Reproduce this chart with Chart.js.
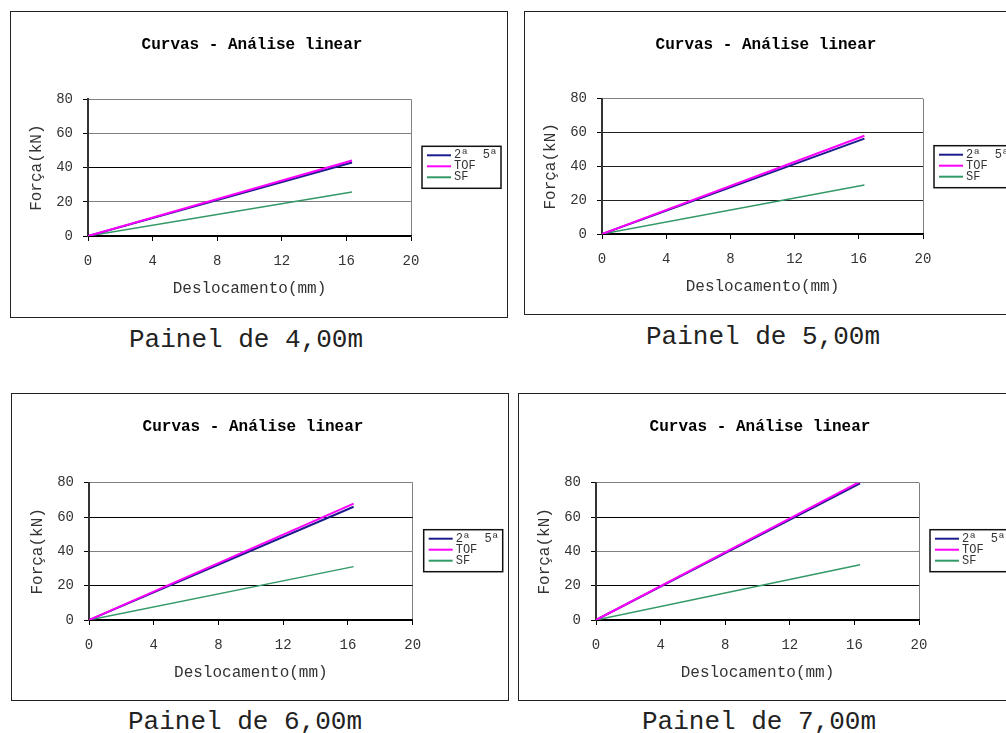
<!DOCTYPE html>
<html>
<head>
<meta charset="utf-8">
<script src="https://cdn.jsdelivr.net/npm/chart.js@4/dist/chart.umd.min.js"></script>
<style>
  html, body { margin: 0; padding: 0; background: #fff; overflow: hidden; width: 1006px; height: 733px; }
  .painel { position: absolute; border: 1px solid #222; background: #fff; }
  .painel canvas { display: block; }
  .legenda { position: absolute; font-family: "Courier New", "Nimbus Mono PS", "Nimbus Mono L", FreeMono, Courier, "Liberation Mono", monospace; font-size: 26px; line-height: 26px; color: #222; white-space: pre; }
</style>
</head>
<body>
<div class="painel" style="left:10px;top:11px;width:496px;height:305px"><canvas id="c1" width="496" height="305"></canvas></div>
<div class="painel" style="left:524px;top:11px;width:496px;height:302px"><canvas id="c2" width="496" height="302"></canvas></div>
<div class="painel" style="left:11px;top:393px;width:496px;height:306px"><canvas id="c3" width="496" height="306"></canvas></div>
<div class="painel" style="left:518px;top:393px;width:496px;height:306px"><canvas id="c4" width="496" height="306"></canvas></div>
<div class="legenda" style="left:129px;top:327px">Painel de 4,00m</div>
<div class="legenda" style="left:646px;top:324px">Painel de 5,00m</div>
<div class="legenda" style="left:128px;top:709px">Painel de 6,00m</div>
<div class="legenda" style="left:642px;top:709px">Painel de 7,00m</div>
<script>
// dados
const deslocamento = [0, 16.35]
const xTicks = [0, 4, 8, 12, 16, 20]
const yTicks = [0, 20, 40, 60, 80]
const nomesSeries = ['2ª  5ª', 'TOF', 'SF']

const p4_25 = [0, 43.0]
const p4_tof = [0, 44.2]
const p4_sf = [0, 25.8]

const p5_25 = [0, 56.4]
const p5_tof = [0, 58.1]
const p5_sf = [0, 29.0]

const p6_25 = [0, 66.0]
const p6_tof = [0, 67.8]
const p6_sf = [0, 31.1]

const p7_25 = [0, 79.6]
const p7_tof = [0, 80.6]
const p7_sf = [0, 32.2]

const cores = ['#1c1c8e', '#ff00ff', '#339966']
const mono = '"Courier New", "Nimbus Mono PS", "Nimbus Mono L", FreeMono, Courier, "Liberation Mono", monospace'

// legenda com moldura, desenhada a partir dos datasets
const legendaBox = {
  id: 'legendaBox',
  afterLayout(chart) {
    // titulo centrado no quadro inteiro, nao so na area do grafico
    if (chart.titleBlock) {
      chart.titleBlock.left = 0
      chart.titleBlock.right = 482
    }
  },
  afterDraw(chart) {
    const ctx = chart.ctx
    const a = chart.chartArea
    const bx = a.right + 11, by = a.top + 47
    ctx.save()
    ctx.strokeStyle = '#111'
    ctx.lineWidth = 1.5
    ctx.strokeRect(bx, by, 79, 42)
    ctx.font = '12px ' + mono
    ctx.textBaseline = 'middle'
    ctx.fillStyle = '#333'
    chart.data.datasets.forEach((ds, i) => {
      const y = by + 9 + i * 11
      ctx.strokeStyle = ds.borderColor
      ctx.lineWidth = 2
      ctx.beginPath()
      ctx.moveTo(bx + 5, y)
      ctx.lineTo(bx + 29, y)
      ctx.stroke()
      ctx.fillText(ds.label, bx + 32, y)
    })
    ctx.restore()
  }
}

function grafico(id, s25, stof, ssf, lay, gridCores) {
  const pts = arr => deslocamento.map((x, i) => ({x: x, y: arr[i]}))
  const el = document.getElementById(id)
  return new Chart(el, {
    type: 'line',
    data: {
      datasets: [
        {label: nomesSeries[0], data: pts(s25), borderColor: cores[0], borderWidth: 2, pointRadius: 0, order: 1},
        {label: nomesSeries[1], data: pts(stof), borderColor: cores[1], borderWidth: 2, pointRadius: 0, order: 0},
        {label: nomesSeries[2], data: pts(ssf), borderColor: cores[2], borderWidth: 1.5, pointRadius: 0, order: 2}
      ]
    },
    options: {
      responsive: false,
      animation: false,
      layout: {padding: {left: 0, top: 0, right: el.width - lay.right, bottom: 0}},
      plugins: {
        legend: {display: false},
        tooltip: {enabled: false},
        title: {
          display: true,
          text: 'Curvas - Análise linear',
          color: '#000',
          font: {family: mono, size: 16, weight: 'bold', lineHeight: 1.2},
          padding: {top: 23, bottom: lay.top - 23 - 19.2}
        }
      },
      scales: {
        x: {
          type: 'linear',
          min: 0, max: 20,
          afterBuildTicks: s => { s.ticks = xTicks.map(v => ({value: v})) },
          afterFit: s => { s.height = el.height - lay.bottom },
          ticks: {color: '#333', padding: 12, font: {family: mono, size: 14}},
          grid: {
            drawOnChartArea: true,
            color: c => (c.tick && c.tick.value === 20) ? '#808080' : 'rgba(0,0,0,0)',
            tickColor: '#000', tickLength: 5, lineWidth: 1
          },
          border: {color: '#000', width: 1.5},
          title: {display: true, text: 'Deslocamento(mm)', color: '#333',
            font: {family: mono, size: 16, lineHeight: 1.2}, padding: {top: 0, bottom: el.height - lay.bottom - 53 - 9.6}}
        },
        y: {
          min: 0, max: 80,
          afterBuildTicks: s => { s.ticks = yTicks.map(v => ({value: v})) },
          afterFit: s => { s.width = lay.left },
          ticks: {color: '#333', padding: 10, font: {family: mono, size: 14}},
          grid: {
            color: c => c.tick ? (gridCores[yTicks.indexOf(c.tick.value)] || '#000') : '#000',
            tickColor: '#000', tickLength: 5, lineWidth: 1
          },
          border: {color: '#333', width: 2},
          title: {display: true, text: 'Força(kN)', color: '#333',
            font: {family: mono, size: 16, lineHeight: 1.2}, padding: {top: 16.5, bottom: 0}}
        }
      }
    },
    plugins: [legendaBox]
  })
}

grafico('c1', p4_25, p4_tof, p4_sf, {left: 77, right: 400, top: 87.3, bottom: 224}, ['#000', '#808080', '#000', '#808080', '#808080'])
grafico('c2', p5_25, p5_tof, p5_sf, {left: 77, right: 398, top: 86.7, bottom: 222}, ['#000', '#222', '#222', '#222', '#808080'])
grafico('c3', p6_25, p6_tof, p6_sf, {left: 77, right: 400.7, top: 88.7, bottom: 226}, ['#000', '#000', '#808080', '#000', '#808080'])
grafico('c4', p7_25, p7_tof, p7_sf, {left: 77, right: 400, top: 88.7, bottom: 226}, ['#000', '#000', '#808080', '#000', '#808080'])
</script>
</body>
</html>
